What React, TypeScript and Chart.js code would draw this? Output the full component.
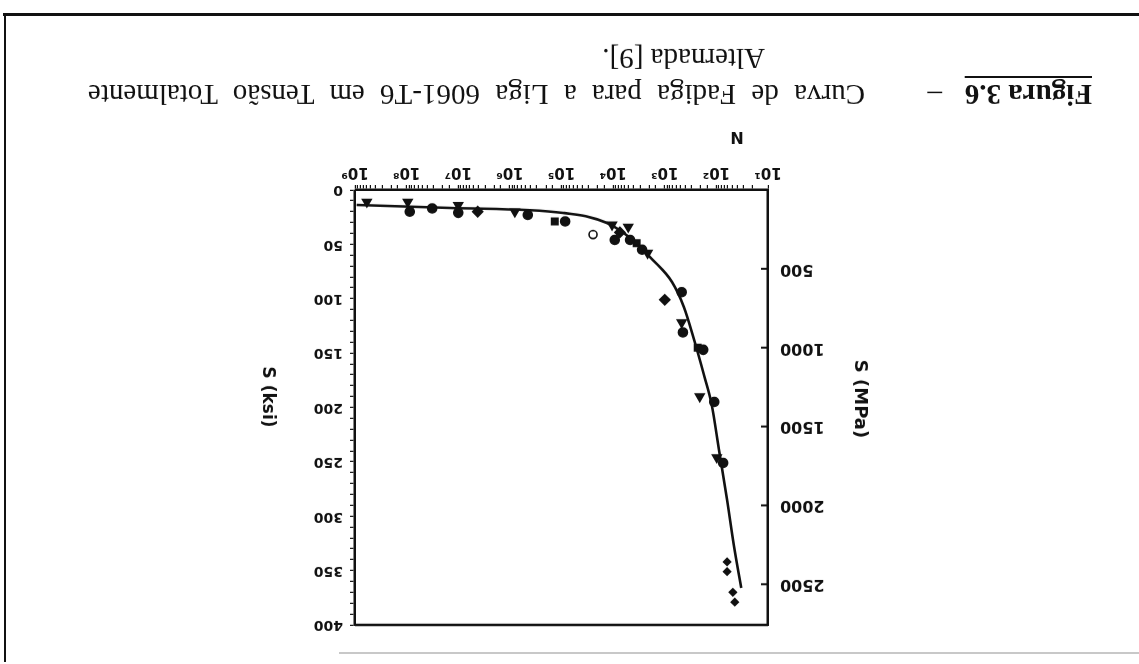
import React, { useEffect, useRef } from 'react';
import { Chart, registerables } from 'chart.js';

Chart.register(...registerables);

const PAGE_W = 1139;
const PAGE_H = 664;
const INK = '#111';

// N axis (cycles to failure), logarithmic decades
const N_DECADES = [1e1, 1e2, 1e3, 1e4, 1e5, 1e6, 1e7, 1e8, 1e9];
const N_TICK_LABELS = ['10¹', '10²', '10³', '10⁴', '10⁵', '10⁶', '10⁷', '10⁸', '10⁹'];

// stress axes
const KSI_MAX = 400;
const KSI_LABEL_STEP = 50;
const KSI_MINOR_STEP = 10;
const MPA_TICKS = [500, 1000, 1500, 2000, 2500];
const MPA_PER_KSI = 6.895;

// test points (N, S in ksi) and their symbol kind
const TEST_N = [5.9e8, 9.5e7, 8.7e7, 3.2e7, 1.0e7, 1.0e7, 4.2e6, 8.0e5, 4.5e5, 1.35e5, 8.5e4, 2.45e4,
  1.05e4, 9.3e3, 7.4e3, 5.1e3, 4.7e3, 3.5e3, 2.75e3, 2.15e3, 1.0e3, 470, 470, 445, 230, 180, 210, 110,
  98, 74, 62, 62, 48, 44];
const TEST_S = [11, 11, 20, 17, 14, 21, 20, 20, 23, 29, 29, 41,
  32, 46, 39, 34, 46, 49, 55, 58, 101, 94, 122, 131, 145, 147, 190, 195,
  246, 251, 342, 351, 370, 379];
const TEST_SYMBOLS = ['triangle', 'triangle', 'circle', 'circle', 'triangle', 'circle', 'diamond', 'triangle',
  'circle', 'square', 'circle', 'open', 'triangle', 'circle', 'diamond', 'triangle', 'circle', 'square',
  'circle', 'triangle', 'diamond', 'circle', 'triangle', 'circle', 'square', 'circle', 'triangle', 'circle',
  'triangle', 'circle', 'dot', 'dot', 'dot', 'dot'];

// fitted S-N curve (N, S in ksi)
const CURVE_N = [9.3e8, 1.45e7, 9.3e4, 1.32e4, 4.2e3, 1.7e3, 725, 427, 270, 174, 123, 89, 62, 46, 33];
const CURVE_S = [13.8, 16.6, 21.1, 30.3, 46.0, 64.4, 84.6, 107.6, 137.9, 170.1, 197.7, 239.1, 285.1, 326.4, 366.0];

const TITLE_N = 'N';
const TITLE_KSI = 'S (ksi)';
const TITLE_MPA = 'S (MPa)';
const CAPTION_LABEL = 'Figura 3.6';
const CAPTION_DASH = '–';
const CAPTION_LINE1 = 'Curva de Fadiga para a Liga 6061-T6 em Tensão Totalmente';
const CAPTION_LINE2 = 'Alternada [9].';

// layout (page drawn upright, then the whole page is turned 180°)
const PLOT_LEFT = 371;
const PLOT_RIGHT = 784;
const PLOT_TOP = 39;
const PLOT_BOTTOM = 474;

const SYMBOL_STYLE: Record<string, { style: string; r: number; fill: string }> = {
  triangle: { style: 'triangle', r: 5, fill: INK },
  circle: { style: 'circle', r: 4.5, fill: INK },
  diamond: { style: 'rectRot', r: 5, fill: INK },
  square: { style: 'rect', r: 4.5, fill: INK },
  open: { style: 'circle', r: 4, fill: '#fff' },
  dot: { style: 'rectRot', r: 3.5, fill: INK },
};

function nLabel(v: number): string {
  const e = Math.log10(v);
  if (Math.abs(e - Math.round(e)) > 1e-6) return '';
  const i = N_DECADES.findIndex((d) => Math.abs(Math.log10(d) - e) < 1e-6);
  return i >= 0 ? N_TICK_LABELS[i] : '';
}

const decorPlugin = {
  id: 'decor',
  afterDraw(chart: any) {
    const { ctx, chartArea: a, scales } = chart;
    ctx.save();
    ctx.strokeStyle = INK;
    ctx.lineWidth = 2.5;
    ctx.beginPath();
    ctx.moveTo(a.left, a.top);
    ctx.lineTo(a.right, a.top);
    ctx.stroke();
    // inward ticks of the MPa axis
    const m = scales.mpa;
    ctx.lineWidth = 2;
    MPA_TICKS.forEach((v) => {
      const y = m.getPixelForValue(v);
      ctx.beginPath();
      ctx.moveTo(a.left, y);
      ctx.lineTo(a.left + 7, y);
      ctx.stroke();
    });
    // axis titles
    ctx.fillStyle = INK;
    ctx.textAlign = 'center';
    ctx.textBaseline = 'middle';
    ctx.font = 'bold 16px "DejaVu Sans"';
    ctx.fillText(TITLE_N, a.left + 31, a.bottom + 54);
    const vertical = (t: string, x: number, y: number) => {
      ctx.save();
      ctx.translate(x, y);
      ctx.rotate(-Math.PI / 2);
      ctx.fillText(t, 0, 0);
      ctx.restore();
    };
    ctx.font = 'bold 18px "DejaVu Sans"';
    vertical(TITLE_MPA, a.left - 92, a.top + 226);
    ctx.font = 'bold 17px "DejaVu Sans"';
    vertical(TITLE_KSI, a.right + 88, a.top + 228);
    ctx.restore();
  },
};

export default function App() {
  const ref = useRef<HTMLCanvasElement>(null);

  useEffect(() => {
    const canvas = ref.current;
    if (!canvas) return;
    const sym = TEST_SYMBOLS.map((s) => SYMBOL_STYLE[s]);
    const chart = new Chart(canvas, {
      type: 'scatter',
      data: {
        datasets: [
          {
            type: 'scatter',
            label: 'ensaios',
            data: TEST_N.map((n, i) => ({ x: n, y: TEST_S[i] })),
            yAxisID: 'ksi',
            pointStyle: sym.map((s) => s.style) as any,
            pointRadius: sym.map((s) => s.r),
            pointBackgroundColor: sym.map((s) => s.fill),
            pointBorderColor: INK,
            pointBorderWidth: 1.6,
            order: 0,
          },
          {
            type: 'line',
            label: 'curva',
            data: CURVE_N.map((n, i) => ({ x: n, y: CURVE_S[i] })),
            yAxisID: 'ksi',
            borderColor: INK,
            borderWidth: 2.6,
            pointRadius: 0,
            cubicInterpolationMode: 'monotone',
            fill: false,
            order: 1,
          } as any,
        ],
      },
      options: {
        responsive: false,
        animation: false,
        events: [],
        layout: { padding: { top: PLOT_TOP, left: 0, right: 0, bottom: 0 }, autoPadding: false },
        plugins: { legend: { display: false }, tooltip: { enabled: false }, title: { display: false } },
        scales: {
          x: {
            type: 'logarithmic',
            position: 'bottom',
            min: N_DECADES[0],
            max: N_DECADES[N_DECADES.length - 1],
            afterFit: (s: any) => { s.height = PAGE_H - PLOT_BOTTOM; },
            border: { display: true, color: INK, width: 2.5 },
            grid: { display: true, drawOnChartArea: false, drawTicks: true, tickLength: 5, color: INK, lineWidth: 1.2 },
            ticks: {
              autoSkip: false, maxRotation: 0, minRotation: 0, padding: 4, color: INK,
              font: { family: '"DejaVu Sans"', weight: 'bold', size: 15 },
              callback: (v: any) => nLabel(Number(v)),
            },
          },
          ksi: {
            type: 'linear',
            position: 'right',
            display: true,
            min: 0,
            max: KSI_MAX,
            afterFit: (s: any) => { s.width = PAGE_W - PLOT_RIGHT; },
            border: { display: true, color: INK, width: 2.5 },
            grid: { display: true, drawOnChartArea: false, drawTicks: true, tickLength: 5, color: INK, lineWidth: 1.2 },
            ticks: {
              stepSize: KSI_MINOR_STEP, autoSkip: false, padding: 7, color: INK,
              font: { family: '"DejaVu Sans"', weight: 'bold', size: 14 },
              callback: (v: any) => (Number(v) % KSI_LABEL_STEP === 0 ? String(v) : ''),
            },
          },
          mpa: {
            type: 'linear',
            position: 'left',
            display: true,
            min: 0,
            max: KSI_MAX * MPA_PER_KSI,
            afterFit: (s: any) => { s.width = PLOT_LEFT; },
            afterBuildTicks: (s: any) => { s.ticks = MPA_TICKS.map((v) => ({ value: v })); },
            border: { display: true, color: INK, width: 2.5 },
            grid: { display: true, drawOnChartArea: false, drawTicks: false },
            ticks: {
              autoSkip: false, padding: 12, color: INK,
              font: { family: '"DejaVu Sans"', weight: 'bold', size: 16 },
              callback: (v: any) => String(v),
            },
          },
        },
      } as any,
      plugins: [decorPlugin],
    });
    return () => chart.destroy();
  }, []);

  const serif = '"Liberation Serif", "Times New Roman", serif';
  const capBase: React.CSSProperties = {
    position: 'absolute', fontFamily: serif, fontSize: 29, lineHeight: '36px', color: INK, whiteSpace: 'nowrap',
  };

  return (
    <div
      style={{
        position: 'fixed', left: 0, top: 0, width: PAGE_W, height: PAGE_H, background: '#fff',
        transform: 'rotate(180deg)', overflow: 'hidden',
      }}
    >
      <canvas ref={ref} width={PAGE_W} height={PAGE_H}
        style={{ position: 'absolute', left: 0, top: 0, width: PAGE_W, height: PAGE_H }} />
      {/* page frame */}
      <div style={{ position: 'absolute', left: 0, top: 648, width: 1136, height: 3, background: INK }} />
      <div style={{ position: 'absolute', left: 1133, top: 2, width: 2, height: 649, background: INK }} />
      <div style={{ position: 'absolute', left: 0, top: 10, width: 800, height: 2, background: '#c8c8c8' }} />
      {/* caption */}
      <span style={{ ...capBase, left: 47, top: 551, fontWeight: 'bold', textDecoration: 'underline', textUnderlineOffset: 7 }}>
        {CAPTION_LABEL}
      </span>
      <span style={{ ...capBase, left: 197, top: 551 }}>{CAPTION_DASH}</span>
      <div style={{ ...capBase, left: 274, top: 551, width: 777, whiteSpace: 'normal', textAlign: 'justify', textAlignLast: 'justify' as any }}>
        {CAPTION_LINE1}
      </div>
      <span style={{ ...capBase, left: 374, top: 587 }}>{CAPTION_LINE2}</span>
    </div>
  );
}
